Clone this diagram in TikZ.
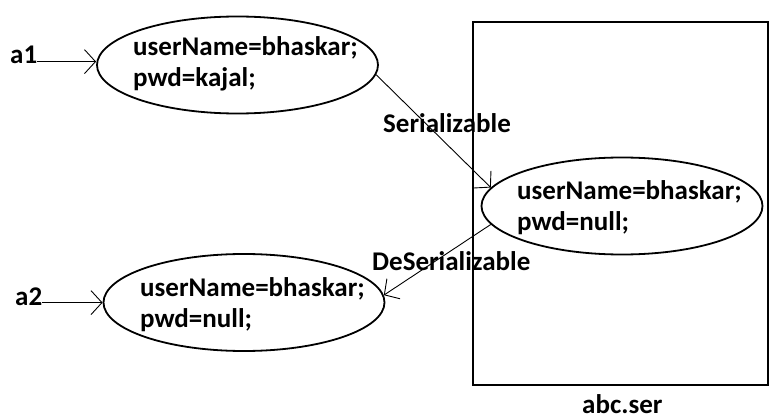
\documentclass[tikz,border=0pt]{standalone}
\usepackage{fontspec}
\setmainfont{Carlito}
\usetikzlibrary{arrows.meta, positioning, shapes.geometric}

\begin{document}
\begin{tikzpicture}[x=1pt, y=-1pt, every node/.style={font=\fontsize{27}{31}\selectfont\bfseries, inner sep=0pt},
  obj/.style={draw, ellipse, line width=1.8pt, minimum width=281pt, minimum height=97pt},
  fields/.style={align=left, anchor=base west},
  arr/.style={-{Straight Barb[length=11pt, width=24pt]}, line width=0.9pt}]
  \useasboundingbox (0,0) rectangle (772,420);

  % file on disk
  \node[draw, line width=1.8pt, minimum width=295pt, minimum height=363pt] (file) at (620.5,203.5) {};
  \node[anchor=base west] (fname) at (582,413) {abc.ser};

  % objects
  \node[obj] (e1) at (237.5,65) {};
  \node[obj] (e3) at (622,206) {};
  \node[obj] (e2) at (244,302.5) {};
  \node[fields] (t1) at (133,87) {userName=bhaskar;\\pwd=kajal;};
  \node[fields] (t3) at (517,230) {userName=bhaskar;\\pwd=null;};
  \node[fields] (t2) at (140,327) {userName=bhaskar;\\pwd=null;};

  % references
  \node[anchor=base west] (a1) at (10,64) {a1};
  \node[anchor=base west] (a2) at (15,305) {a2};
  \draw[arr] (a1.mid east) -- (a1.mid east -| e1.west);
  \draw[arr] (a2.mid east) -- (a2.mid east -| e2.west);

  \draw[arr] (e1.-4) -- (e3.172);
  \node[anchor=base west] (ser) at (383,132) {Serializable};
  \draw[arr] (e3.188) -- (e2.3);
  \node[anchor=base west] (deser) at (372,270) {DeSerializable};
\end{tikzpicture}
\end{document}
